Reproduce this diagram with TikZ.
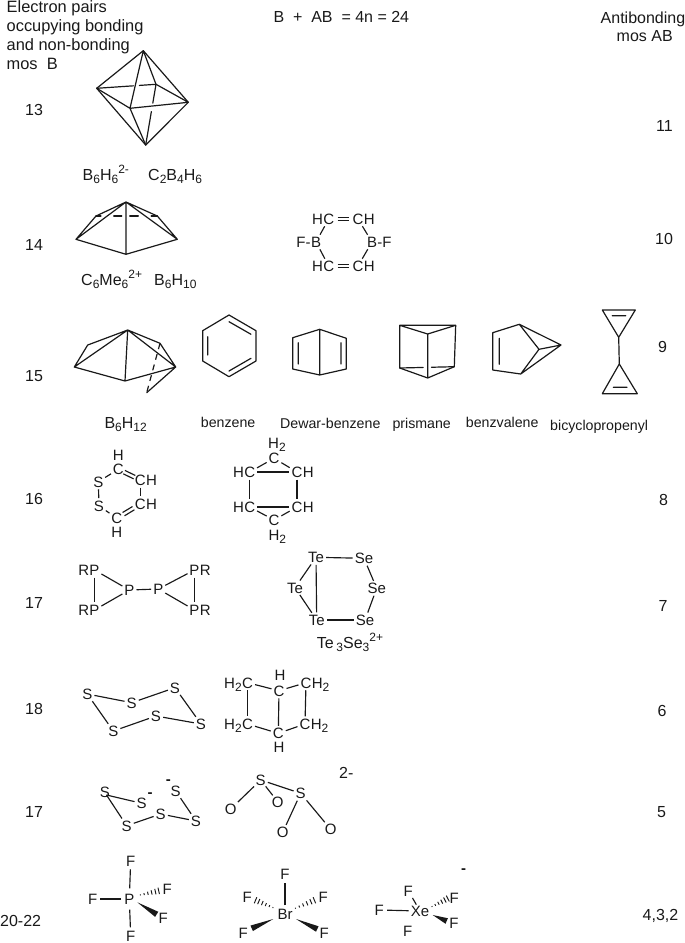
\documentclass[tikz,border=0pt]{standalone}
\usepackage{fontspec}
\setmainfont{Liberation Sans}
\usetikzlibrary{calc}
\newcommand\sbs[1]{\raisebox{-0.22em}{\fontsize{12}{13}\selectfont #1}}
\newcommand\sps[1]{\raisebox{0.42em}{\fontsize{12}{13}\selectfont #1}}
\tikzset{
  lab/.style={inner sep=0pt,anchor=base west,font=\fontsize{16}{19}\selectfont,text=black!90},
  name14/.style={inner sep=0pt,anchor=base west,font=\fontsize{14.2}{17}\selectfont,text=black!90},
  atom/.style={inner sep=0pt,text height=10.7pt,text depth=0pt,font=\fontsize{15}{18}\selectfont,text=black!90},
  bond/.style={line width=1.15pt,shorten >=2pt,shorten <=2pt,draw=black!90},
  edge/.style={line width=1.2pt,line join=round,line cap=round,draw=black!90},
  charge/.style={inner sep=0pt,font=\bfseries\fontsize{15}{18}\selectfont,text=black!90},
}
\newcommand\hashbond[2]{%
  \foreach \t/\w in {0.02/0.5,0.22/1.0,0.42/1.6,0.62/2.2,0.82/2.8,1.0/3.3}{%
    \coordinate (hp) at ($(#1)!\t*0.97!(#2)$);
    \draw[line width=.95pt,black!90] ($(hp)!\w pt!90:(#2)$) -- ($(hp)!\w pt!-90:(#2)$);
  }}
\newcommand\wedgebond[2]{%
  \fill[black!90] (#1) -- ($(#2)!3pt!90:(#1)$) -- ($(#2)!3pt!-90:(#1)$) -- cycle;}
% double bond between two named atoms: #3 = clearance at each atom
\newcommand\dblbond[3]{%
  \draw[bond,shorten >=#3pt,shorten <=#3pt] ($(#1)!1.9pt!90:(#2)$) -- ($(#2)!1.9pt!-90:(#1)$);
  \draw[bond,shorten >=#3pt,shorten <=#3pt] ($(#1)!1.9pt!-90:(#2)$) -- ($(#2)!1.9pt!90:(#1)$);}
\begin{document}
\begin{tikzpicture}[x=1pt,y=-1pt]
\useasboundingbox (0,0) rectangle (685,943);
% ---------- headers
\node[lab,font=\fontsize{16.4}{19}\selectfont,align=left,anchor=north west] (hdrL) at (6.5,0) {Electron pairs\\occupying bonding\\and non-bonding\\mos\ \ B};
\node[lab] (hdrM) at (273.3,22.5) {B\ \ +\ \ AB\ \ = 4n = 24};
\node[lab] (hdrR1) at (600.5,23) {Antibonding};
\node[lab] (hdrR2) at (616.5,41.7) {mos AB};
% ---------- left/right numbers
\foreach \n/\x/\y/\t in {a/25/115/13,b/25/250/14,c/25/381/15,d/25/504/16,e/25/608/17,f/25/714/18,g/25/817/17,h/0/926/20-22,
  i/656/131/11,j/655/244/10,k/658/352/9,l/659/505/8,m/658.5/611/7,n/657.5/716.7/6,o/657/817.7/5,p/642.5/920/{4,3,2}}
  \node[lab] (num\n) at (\x,\y) {\t};
% ---------- octahedron
\coordinate (oT) at (143.3,50.7); \coordinate (oL) at (96.7,88.3);
\coordinate (oR) at (188.3,102.3); \coordinate (oB) at (145.7,145);
\coordinate (oF) at (130,108.3); \coordinate (oK) at (156,84.3);
\draw[edge] (oT)--(oL)--(oB)--(oR)--cycle;
\draw[edge] (oT)--(oF)--(oL) (oF)--(oR) (oF)--(oB) (oT)--(oK)--(oR);
\draw[edge] (oL)--($(oL)!.62!(oK)$) ($(oL)!.72!(oK)$)--(oK);
\draw[edge] (oK)--($(oK)!.31!(oB)$) ($(oK)!.45!(oB)$)--(oB);
\node[lab] (nB6H6) at (82.5,180) {B\sbs{6}H\sbs{6}\sps{2-}};
\node[lab] (nC2B4) at (148,180) {C\sbs{2}B\sbs{4}H\sbs{6}};
% ---------- row 14 cage
\coordinate (pT) at (126,202); \coordinate (pL) at (76,239.3);
\coordinate (pR) at (177.3,239.3); \coordinate (pB) at (126,254.3);
\coordinate (pBL) at (96,216); \coordinate (pBR) at (157.3,216);
\draw[edge] (pL)--(pT)--(pR)--(pB)--cycle (pT)--(pB) (pL)--(pBL)--(pT)--(pBR)--(pR);
\foreach \a/\b in {0/.08,.29/.42,.55/.69,.9/1}
  \draw[edge] ($(pBL)!\a!(pBR)$)--($(pBL)!\b!(pBR)$);
\node[lab] (nC6Me6) at (81,285) {C\sbs{6}Me\sbs{6}\sps{2+}};
\node[lab] (nB6H10) at (154,285) {B\sbs{6}H\sbs{10}};
% ---------- F-B ring
\node[atom] (bC1) at (328.7,219) {C}; \node[atom,anchor=east] (bH1) at (bC1.west) {H};
\node[atom] (bC2) at (358,219) {C}; \node[atom,anchor=west] (bH2) at (bC2.east) {H};
\node[atom] (bB1) at (316,242) {B}; \node[atom,anchor=east] (bF1) at (bB1.west) {F-};
\node[atom] (bB2) at (372,242) {B}; \node[atom,anchor=west] (bF2) at (bB2.east) {-F};
\node[atom] (bC3) at (328.7,266) {C}; \node[atom,anchor=east] (bH3) at (bC3.west) {H};
\node[atom] (bC4) at (358,266) {C}; \node[atom,anchor=west] (bH4) at (bC4.east) {H};
\dblbond{bC1}{bC2}{9}\dblbond{bC3}{bC4}{9}
\draw[bond] (bC1)--(bB1); \draw[bond] (bC2)--(bB2); \draw[bond] (bB1)--(bC3); \draw[bond] (bB2)--(bC4);
% ---------- B6H12
\coordinate (qT) at (127.7,330); \coordinate (qL) at (74.3,367); \coordinate (qBL) at (87.7,345);
\coordinate (qB) at (125,381); \coordinate (qR) at (175.7,367); \coordinate (qK) at (160,343.3);
\coordinate (qD) at (146.7,392.7);
\draw[edge] (qL)--(qBL)--(qT)--(qL)--(qB)--(qR)--(qK)--(qT)--(qB) (qT)--(qR)--(qD);
\draw[edge,line cap=butt,dash pattern=on 6pt off 5pt] (qK)--(qD);
\node[lab] (nB6H12) at (104.3,428) {B\sbs{6}H\sbs{12}};
% ---------- benzene
\coordinate (z1) at (229,315); \coordinate (z2) at (256,330.7); \coordinate (z3) at (256,361);
\coordinate (z4) at (229,376.7); \coordinate (z5) at (202.7,361); \coordinate (z6) at (202.7,330.7);
\coordinate (zi1) at (207.7,336.7); \coordinate (zi2) at (207.7,355);
\coordinate (zi3) at (229,321.7); \coordinate (zi4) at (251,334.3);
\coordinate (zi5) at (229,371); \coordinate (zi6) at (251,358.3);
\draw[edge] (z1)--(z2)--(z3)--(z4)--(z5)--(z6)--cycle;
\draw[edge] (zi1)--(zi2) (zi3)--(zi4) (zi5)--(zi6);
\node[name14] (nBenz) at (200.7,427.3) {benzene};
% ---------- Dewar benzene
\coordinate (d1) at (319.7,329.3); \coordinate (d2) at (346.3,338.3); \coordinate (d3) at (346.3,369);
\coordinate (d4) at (319.7,375); \coordinate (d5) at (292.7,369); \coordinate (d6) at (292.7,337.7);
\coordinate (di1) at (298.3,342.7); \coordinate (di2) at (298.3,364);
\coordinate (di3) at (341,342.7); \coordinate (di4) at (341,364);
\draw[edge] (d1)--(d2)--(d3)--(d4)--(d5)--(d6)--cycle (d1)--(d4) (di1)--(di2) (di3)--(di4);
\node[name14] (nDewar) at (280,428) {Dewar-benzene};
% ---------- prismane
\coordinate (r1) at (399.7,325.3); \coordinate (r2) at (455.7,325.3); \coordinate (r3) at (427.7,334);
\coordinate (r4) at (399.7,368); \coordinate (r5) at (454.3,366.7); \coordinate (r6) at (427.7,378);
\draw[edge] (r3)--(r1)--(r2)--(r3)--(r6)--(r4)--(r1) (r2)--(r5)--(r6);
\draw[edge] (r4)--($(r4)!.43!(r5)$) ($(r4)!.58!(r5)$)--(r5);
\node[name14] (nPrism) at (392.3,428) {prismane};
% ---------- benzvalene
\coordinate (v1) at (492.7,332.7); \coordinate (v2) at (519.3,324.3); \coordinate (v3) at (561,345);
\coordinate (v4) at (539,349.3); \coordinate (v5) at (520.7,374); \coordinate (v6) at (492.7,370);
\coordinate (vi1) at (499.3,338.3); \coordinate (vi2) at (499.3,364.3);
\draw[edge] (v1)--(v2)--(v3)--(v5)--(v6)--cycle (v2)--(v4)--(v3) (v4)--(v5) (vi1)--(vi2);
\node[name14] (nBenzv) at (465.7,427) {benzvalene};
% ---------- bicyclopropenyl
\coordinate (c1) at (602.3,310); \coordinate (c2) at (635.3,310); \coordinate (c3) at (618.7,337.3);
\coordinate (c4) at (619.3,364); \coordinate (c5) at (602.3,393.7); \coordinate (c6) at (637.3,393.7);
\coordinate (ci1) at (612.3,315.7); \coordinate (ci2) at (625.7,315.7);
\coordinate (ci3) at (613.3,387.3); \coordinate (ci4) at (627,387.3);
\draw[edge] (c1)--(c2)--(c3)--cycle (c3)--(c4) (c4)--(c5)--(c6)--cycle (ci1)--(ci2) (ci3)--(ci4);
\node[name14] (nBicy) at (550,430.7) {bicyclopropenyl};
% ---------- row 16 left ring
\node[atom] (sH1) at (118.3,455) {H}; \node[atom] (sC1) at (118.3,469.3) {C};
\node[atom] (sS1) at (98.3,481.7) {S}; \node[atom] (sS2) at (99,505.7) {S};
\node[atom] (sC2) at (140.3,480) {C}; \node[atom,anchor=west] (sH2) at (sC2.east) {H};
\node[atom] (sC3) at (140.3,504) {C}; \node[atom,anchor=west] (sH3) at (sC3.east) {H};
\node[atom] (sC4) at (116.7,518.3) {C}; \node[atom] (sH4) at (116.7,532.3) {H};
\draw[bond] (sS1)--(sC1); \dblbond{sC1}{sC2}{6.5}\draw[bond] (sC2)--(sC3);
\dblbond{sC3}{sC4}{8}\draw[bond] (sC4)--(sS2); \draw[bond] (sS2)--(sS1);
% ---------- row 16 right ring
\node[atom] (tH1) at (277,443) {H\sbs{2}}; \node[atom] (tC1) at (274,458.3) {C};
\node[atom] (tC2) at (249.7,472) {C}; \node[atom,anchor=east] (tH2) at (tC2.west) {H};
\node[atom] (tC3) at (297,472) {C}; \node[atom,anchor=west] (tH3) at (tC3.east) {H};
\node[atom] (tC4) at (249.7,507) {C}; \node[atom,anchor=east] (tH4) at (tC4.west) {H};
\node[atom] (tC5) at (297,507) {C}; \node[atom,anchor=west] (tH5) at (tC5.east) {H};
\node[atom] (tC6) at (274,520) {C}; \node[atom] (tH6) at (277.3,535) {H\sbs{2}};
\draw[bond] (tC1)--(tC2); \draw[bond] (tC1)--(tC3); \draw[bond] (tC2)--(tC3);
\draw[bond] (tC2)--(tC4); \draw[bond] (tC3)--(tC5); \draw[bond] (tC4)--(tC5);
\draw[bond] (tC4)--(tC6); \draw[bond] (tC5)--(tC6);
% ---------- P6R4
\node[atom] (uP1) at (94.5,570) {P}; \node[atom,anchor=east] (uR1) at (uP1.west) {R};
\node[atom] (uP2) at (94.5,610) {P}; \node[atom,anchor=east] (uR2) at (uP2.west) {R};
\node[atom] (uP3) at (129.3,590) {P}; \node[atom] (uP4) at (158.3,589) {P};
\node[atom] (uP5) at (194.5,570) {P}; \node[atom,anchor=west] (uR5) at (uP5.east) {R};
\node[atom] (uP6) at (194.5,610) {P}; \node[atom,anchor=west] (uR6) at (uP6.east) {R};
\draw[bond] (uP1)--(uP2); \draw[bond] (uP1)--(uP3); \draw[bond] (uP2)--(uP3);
\draw[bond] (uP3)--(uP4); \draw[bond] (uP4)--(uP5); \draw[bond] (uP4)--(uP6); \draw[bond] (uP5)--(uP6);
% ---------- Te3Se3
\node[atom] (wT1) at (316,557.3) {Te}; \node[atom] (wS1) at (364,558.3) {Se};
\node[atom] (wS2) at (376.7,588.3) {Se}; \node[atom] (wS3) at (365,620) {Se};
\node[atom] (wT2) at (316.7,620) {Te}; \node[atom] (wT3) at (295,587.7) {Te};
\draw[bond] (wT1)--(wS1); \draw[bond] (wS1)--(wS2); \draw[bond] (wS2)--(wS3);
\draw[bond] (wS3)--(wT2); \draw[bond] (wT1)--(wT2); \draw[bond] (wT1)--(wT3); \draw[bond] (wT3)--(wT2);
\node[lab] (nTeSe) at (316.7,648) {Te\,\sbs{3}Se\sbs{3}\sps{2+}};
% ---------- S6 chair
\node[atom] (xS1) at (87.3,694) {S}; \node[atom] (xS2) at (131.7,702.7) {S};
\node[atom] (xS3) at (175,687.7) {S}; \node[atom] (xS4) at (201,724) {S};
\node[atom] (xS5) at (156,716) {S}; \node[atom] (xS6) at (113.3,731) {S};
\draw[bond] (xS1)--(xS2); \draw[bond] (xS2)--(xS3); \draw[bond] (xS3)--(xS4);
\draw[bond] (xS4)--(xS5); \draw[bond] (xS5)--(xS6); \draw[bond] (xS6)--(xS1);
% ---------- H2C ring
\node[atom] (yC1) at (247.5,682.7) {C}; \node[atom,anchor=east] (yH1) at (yC1.west) {H\sbs{2}};
\node[atom] (yH2) at (280,675) {H}; \node[atom] (yC2) at (279,690.7) {C};
\node[atom] (yC3) at (306,682.7) {C}; \node[atom,anchor=west] (yH3) at (yC3.east) {H\sbs{2}};
\node[atom] (yC4) at (247.5,724) {C}; \node[atom,anchor=east] (yH4) at (yC4.west) {H\sbs{2}};
\node[atom] (yC5) at (305,724) {C}; \node[atom,anchor=west] (yH5) at (yC5.east) {H\sbs{2}};
\node[atom] (yC6) at (278.3,733.3) {C}; \node[atom] (yH6) at (279,747.3) {H};
\draw[bond] (yC1)--(yC2); \draw[bond] (yC2)--(yC3); \draw[bond] (yC1)--(yC4);
\draw[bond] (yC2)--(yC6); \draw[bond] (yC3)--(yC5); \draw[bond] (yC4)--(yC6); \draw[bond] (yC6)--(yC5);
% ---------- S6 chain
\node[atom] (aS1) at (105,792.3) {S}; \node[atom] (aS2) at (141.7,803.3) {S};
\node[atom] (aS3) at (175.7,791) {S}; \node[atom] (aS4) at (196,821) {S};
\node[atom] (aS5) at (160.7,814) {S}; \node[atom] (aS6) at (126.7,825.7) {S};
\node[charge] (aM1) at (150,795) {-}; \node[charge] (aM2) at (168.3,782.3) {-};
\coordinate (aK) at (106.5,795);
\draw[bond,shorten <=0pt] (aK)--(aS2); \draw[bond,shorten <=0pt] (aK)--(aS6);
\draw[bond] (aS3)--(aS4); \draw[bond] (aS4)--(aS5); \draw[bond] (aS5)--(aS6);
% ---------- S3O6
\node[atom] (eS1) at (260.7,780) {S}; \node[atom] (eS2) at (300.7,793.3) {S};
\node[atom] (eO1) at (230.7,809) {O}; \node[atom] (eO2) at (277.7,801.7) {O};
\node[atom] (eO3) at (282.7,832.3) {O}; \node[atom] (eO4) at (330.7,829.3) {O};
\draw[bond] (eS1)--(eS2); \draw[bond] (eS1)--(eO1); \draw[bond,shorten <=1pt,shorten >=1pt] (eS1)--(eO2);
\draw[bond] (eS2)--(eO3); \draw[bond] (eS2)--(eO4);
\node[lab] (nChg2) at (339,778) {2-};
% ---------- PF5
\node[atom] (fP) at (129.3,899) {P}; \node[atom] (fT) at (130.7,860.7) {F};
\node[atom] (fL) at (92.7,899) {F}; \node[atom] (fB) at (130.7,936) {F};
\node[atom] (fU) at (167.3,889.3) {F}; \node[atom] (fD) at (163.3,918.3) {F};
\draw[bond,shorten <=5pt,shorten >=3pt] (fP)--(fT); \draw[bond,shorten <=3pt,shorten >=3pt] (fP)--(fL);
\draw[bond,shorten <=5pt,shorten >=3pt] (fP)--(fB);
\coordinate (fU1) at (140,895); \coordinate (fU2) at (159.3,890.7); \hashbond{fU1}{fU2}
\coordinate (fD1) at (137.3,902.3); \coordinate (fD2) at (156.7,914.3); \wedgebond{fD1}{fD2}
% ---------- BrF5
\node[atom] (gBr) at (285,914) {Br}; \node[atom] (gT) at (285,874.3) {F};
\node[atom] (gUL) at (247.3,897.3) {F}; \node[atom] (gUR) at (323.3,897.3) {F};
\node[atom] (gLL) at (243.3,932.7) {F}; \node[atom] (gLR) at (324.3,932.7) {F};
\draw[bond,shorten <=3pt,shorten >=3pt] (gBr)--(gT);
\coordinate (gA1) at (273.3,907.7); \coordinate (gA2) at (255,900); \hashbond{gA1}{gA2}
\coordinate (gB1) at (295,908.3); \coordinate (gB2) at (315,900); \hashbond{gB1}{gB2}
\coordinate (gC1) at (273.3,919); \coordinate (gC2) at (251.7,928.3); \wedgebond{gC1}{gC2}
\coordinate (gD1) at (296,919); \coordinate (gD2) at (317.3,929); \wedgebond{gD1}{gD2}
% ---------- XeF5
\node[atom] (kX) at (420,911) {Xe}; \node[atom] (kL) at (379.3,910) {F};
\node[atom] (kT) at (408.3,890.7) {F}; \node[atom] (kB) at (407.7,930.7) {F};
\node[atom] (kU) at (454.3,898.3) {F}; \node[atom] (kD) at (454,923.3) {F};
\node[charge] (kM) at (463.7,870.7) {-};
\draw[bond,shorten <=2pt,shorten >=3pt] (kX)--(kL);
\draw[bond,shorten <=1pt,shorten >=2pt] (kX)--(kT);
\coordinate (kU1) at (431.7,906.7); \coordinate (kU2) at (448.3,898.3); \hashbond{kU1}{kU2}
\coordinate (kD1) at (432.7,915); \coordinate (kD2) at (446.7,921); \wedgebond{kD1}{kD2}
\end{tikzpicture}
\end{document}
